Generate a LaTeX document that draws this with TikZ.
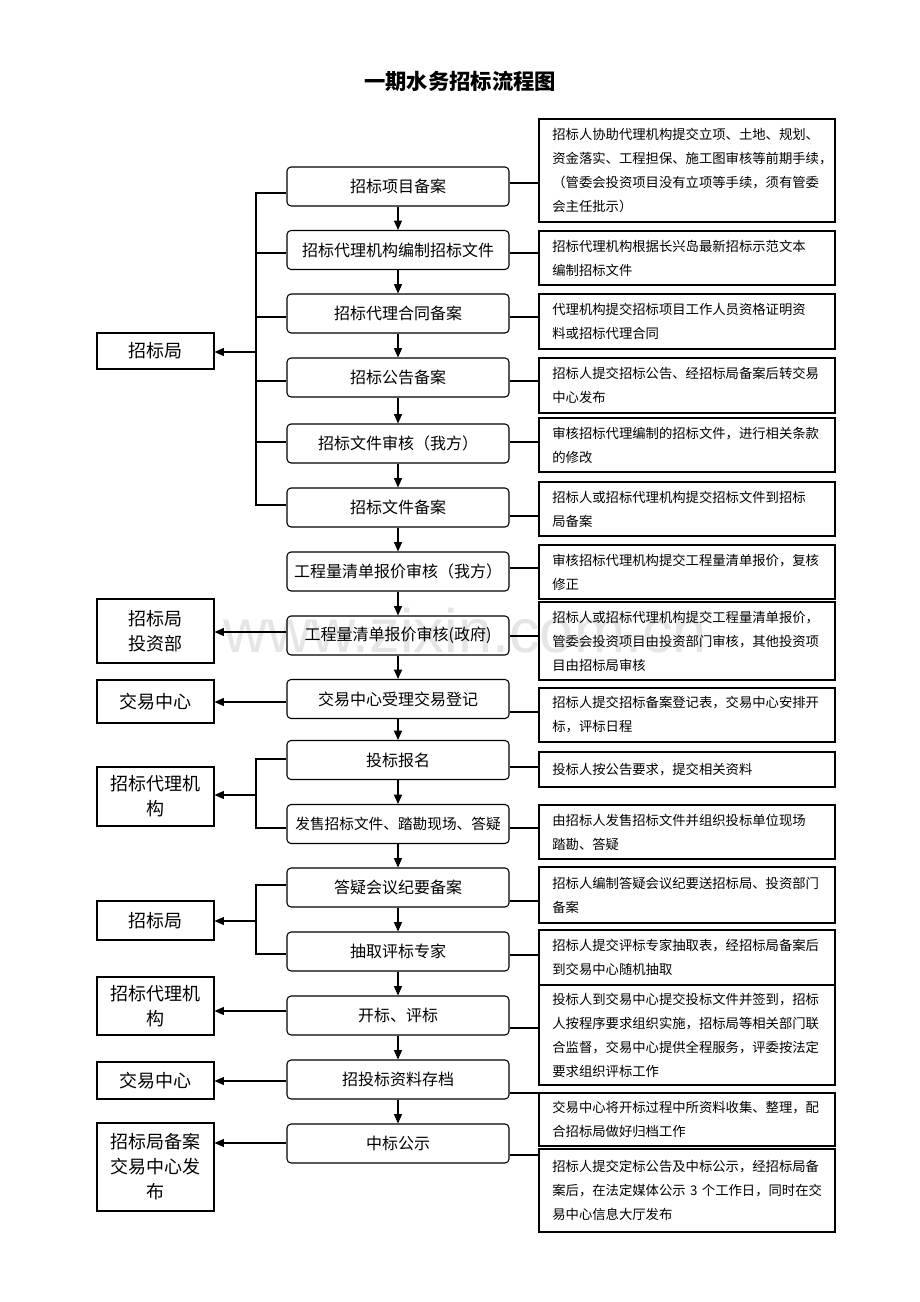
\documentclass[tikz,border=0pt]{standalone}
\usepackage{fontspec}
\setmainfont{Noto Sans CJK SC}
\newfontfamily\wmfont{Liberation Sans}
\usetikzlibrary{arrows.meta}

\begin{document}
\begin{tikzpicture}[x=0.75pt,y=-0.75pt]
		\useasboundingbox (0,0) rectangle (920,1302);
		\begin{scope}
		
		\tikzstyle{stepbox}=[rectangle,
		rounded corners=3pt,
		draw=black,
		line width=0.8pt,
		fill=white,
		minimum width=166.5pt,
		minimum height=29.25pt,
		inner sep=0pt,
		font=\fontsize{12}{14}\selectfont
		]
		\tikzstyle{notebox}=[rectangle,
		draw=black,
		line width=0.8pt,
		text width=202pt,
		inner xsep=10pt,
		inner ysep=2pt,
		align=left,
		font=\fontsize{10}{18}\selectfont
		]
		\tikzstyle{deptbox}=[rectangle,
		draw=black,
		line width=0.8pt,
		minimum width=87.75pt,
		inner sep=0pt,
		align=center,
		font=\fontsize{13.5}{18.75}\selectfont
		]
		\tikzstyle{link}=[line width=0.8pt]
		\tikzstyle{arrow}=[line width=0.8pt,-{Triangle[length=7pt,width=6pt]}]
		
		\node[font=\fontsize{16}{18}\selectfont\bfseries] (title) at (460,81) {一期水务招标流程图};
		
		% main chain
		\node[stepbox] (b1) at (398,186.5) {招标项目备案};
		\node[stepbox] (b2) at (398,250) {招标代理机构编制招标文件};
		\node[stepbox] (b3) at (398,313.5) {招标代理合同备案};
		\node[stepbox] (b4) at (398,377.5) {招标公告备案};
		\node[stepbox] (b5) at (398,443.5) {招标文件审核（我方）};
		\node[stepbox] (b6) at (398,507.5) {招标文件备案};
		\node[stepbox] (b7) at (398,571.5) {工程量清单报价审核（我方）};
		\node[stepbox] (b8) at (398,635.5) {工程量清单报价审核(政府)};
		\node[stepbox] (b9) at (398,699) {交易中心受理交易登记};
		\node[stepbox] (b10) at (398,760) {投标报名};
		\node[stepbox,font=\fontsize{11}{13}\selectfont] (b11) at (398,824) {发售招标文件、踏勘现场、答疑};
		\node[stepbox] (b12) at (398,887.5) {答疑会议纪要备案};
		\node[stepbox] (b13) at (398,951.5) {抽取评标专家};
		\node[stepbox] (b14) at (398,1015.5) {开标、评标};
		\node[stepbox] (b15) at (398,1079.5) {招投标资料存档};
		\node[stepbox] (b16) at (398,1143.5) {中标公示};
		
		\draw[arrow] (b1) -- (b2);
		\draw[arrow] (b2) -- (b3);
		\draw[arrow] (b3) -- (b4);
		\draw[arrow] (b4) -- (b5);
		\draw[arrow] (b5) -- (b6);
		\draw[arrow] (b6) -- (b7);
		\draw[arrow] (b7) -- (b8);
		\draw[arrow] (b8) -- (b9);
		\draw[arrow] (b9) -- (b10);
		\draw[arrow] (b10) -- (b11);
		\draw[arrow] (b11) -- (b12);
		\draw[arrow] (b12) -- (b13);
		\draw[arrow] (b13) -- (b14);
		\draw[arrow] (b14) -- (b15);
		\draw[arrow] (b15) -- (b16);
		
		% notes on the right
		\node[notebox,minimum height=77.25pt] (r1) at (687,170.5) {招标人协助代理机构提交立项、土地、规划、\\资金落实、工程担保、施工图审核等前期手续，\\（管委会投资项目没有立项等手续，须有管委\\会主任批示）};
		\node[notebox,minimum height=40.5pt] (r2) at (687,258) {招标代理机构根据长兴岛最新招标示范文本\\编制招标文件};
		\node[notebox,minimum height=41.25pt] (r3) at (687,321.5) {代理机构提交招标项目工作人员资格证明资\\料或招标代理合同};
		\node[notebox,minimum height=41.25pt] (r4) at (687,385.5) {招标人提交招标公告、经招标局备案后转交易\\中心发布};
		\node[notebox,minimum height=40.5pt] (r5) at (687,445) {审核招标代理编制的招标文件，进行相关条款\\的修改};
		\node[notebox,minimum height=40.5pt] (r6) at (687,509) {招标人或招标代理机构提交招标文件到招标\\局备案};
		\node[notebox,minimum height=40.5pt] (r7) at (687,572) {审核招标代理机构提交工程量清单报价，复核\\修正};
		\node[notebox,minimum height=58.5pt] (r8) at (687,641) {招标人或招标代理机构提交工程量清单报价，\\管委会投资项目由投资部门审核，其他投资项\\目由招标局审核};
		\node[notebox,minimum height=40.5pt] (r9) at (687,715) {招标人提交招标备案登记表，交易中心安排开\\标，评标日程};
		\node[notebox,minimum height=26.25pt] (r10) at (687,769.5) {投标人按公告要求，提交相关资料};
		\node[notebox,minimum height=40.5pt] (r11) at (687,832) {由招标人发售招标文件并组织投标单位现场\\踏勘、答疑};
		\node[notebox,minimum height=42pt] (r12) at (687,895) {招标人编制答疑会议纪要送招标局、投资部门\\备案};
		\node[notebox,minimum height=41.25pt] (r13) at (687,957.5) {招标人提交评标专家抽取表，经招标局备案后\\到交易中心随机抽取};
		\node[notebox,minimum height=75pt] (r14) at (687,1035) {投标人到交易中心提交投标文件并签到，招标\\人按程序要求组织实施，招标局等相关部门联\\合监督，交易中心提供全程服务，评委按法定\\要求组织评标工作};
		\node[notebox,minimum height=39.75pt] (r15) at (687,1119.5) {交易中心将开标过程中所资料收集、整理，配\\合招标局做好归档工作};
		\node[notebox,minimum height=62.25pt] (r16) at (687,1190.5) {招标人提交定标公告及中标公示，经招标局备\\案后，在法定媒体公示~3~个工作日，同时在交\\易中心信息大厅发布};
		
		\draw[link] (b1.east |- 0,183) -- (r1.west |- 0,183);
		\draw[link] (b2.east |- 0,253) -- (r2.west |- 0,253);
		\draw[link] (b3.east |- 0,317) -- (r3.west |- 0,317);
		\draw[link] (b4.east |- 0,381) -- (r4.west |- 0,381);
		\draw[link] (b5.east |- 0,442) -- (r5.west |- 0,442);
		\draw[link] (b6.east |- 0,516) -- (r6.west |- 0,516);
		\draw[link] (b7.east |- 0,568) -- (r7.west |- 0,568);
		\draw[link] (b8.east |- 0,636) -- (r8.west |- 0,636);
		\draw[link] (b9.east |- 0,712) -- (r9.west |- 0,712);
		\draw[link] (b10.east |- 0,767) -- (r10.west |- 0,767);
		\draw[link] (b11.east |- 0,828) -- (r11.west |- 0,828);
		\draw[link] (b12.east |- 0,901) -- (r12.west |- 0,901);
		\draw[link] (b13.east |- 0,955) -- (r13.west |- 0,955);
		\draw[link] (b14.east |- 0,1028) -- (r14.west |- 0,1028);
		\draw[link] (b15.east |- 0,1093) -- (r15.west |- 0,1093);
		\draw[link] (b16.east |- 0,1155) -- (r16.west |- 0,1155);
		
		% departments on the left
		\node[deptbox,minimum height=27pt] (l1) at (155.5,351) {招标局};
		\node[deptbox,minimum height=48pt] (l2) at (155.5,631) {招标局\\投资部};
		\node[deptbox,minimum height=32.25pt] (l3) at (155.5,701.5) {交易中心};
		\node[deptbox,minimum height=44.25pt] (l4) at (155.5,796.5) {招标代理机\\构};
		\node[deptbox,minimum height=29.25pt] (l5) at (155.5,920.5) {招标局};
		\node[deptbox,minimum height=43.5pt] (l6) at (155.5,1006) {招标代理机\\构};
		\node[deptbox,minimum height=27.75pt] (l7) at (155.5,1080.5) {交易中心};
		\node[deptbox,minimum height=66pt] (l8) at (155.5,1167) {招标局备案\\交易中心发\\布};
		
		\coordinate (bus1) at (256,352);
		\coordinate (bus4) at (256,795);
		\coordinate (bus5) at (256,921);
		
		\draw[link] (b1.west |- 0,193) -| (bus1);
		\draw[link] (b6.west |- 0,505) -| (bus1);
		\draw[link] (b2.west |- 0,253) -- (bus1 |- 0,253);
		\draw[link] (b3.west |- 0,317) -- (bus1 |- 0,317);
		\draw[link] (b4.west |- 0,381) -- (bus1 |- 0,381);
		\draw[link] (b5.west |- 0,442) -- (bus1 |- 0,442);
		\draw[arrow] (bus1) -- (l1.east |- bus1);
		
		\draw[arrow] (b8.west |- 0,632) -- (l2.east |- 0,632);
		\draw[arrow] (b9.west |- 0,702) -- (l3.east |- 0,702);
		
		\draw[link] (b10.west |- 0,759) -| (bus4);
		\draw[link] (b11.west |- 0,828) -| (bus4);
		\draw[arrow] (bus4) -- (l4.east |- bus4);
		
		\draw[link] (b12.west |- 0,885) -| (bus5);
		\draw[link] (b13.west |- 0,954) -| (bus5);
		\draw[arrow] (bus5) -- (l5.east |- bus5);
		
		\draw[arrow] (b14.west |- 0,1011) -- (l6.east |- 0,1011);
		\draw[arrow] (b15.west |- 0,1081) -- (l7.east |- 0,1081);
		\draw[arrow] (b16.west |- 0,1143) -- (l8.east |- 0,1143);
		
		\node[font=\wmfont\fontsize{46}{46}\selectfont,text=black,opacity=0.1] (wm) at (465,631) {www.zixin.com.cn};
		
		\end{scope}
		\end{tikzpicture}
\end{document}
